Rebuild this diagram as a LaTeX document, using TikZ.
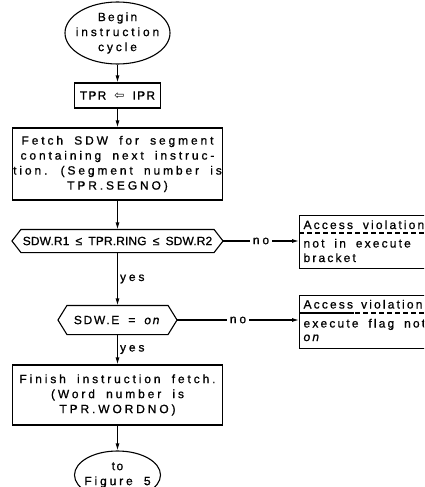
\documentclass[tikz,border=0pt]{standalone}
\usepackage{fontspec}
\setmainfont{Liberation Sans}[LetterSpace=24, WordSpace=1.8, FakeBold=0.8]
\newfontfamily\symfont{DejaVu Sans}
\usetikzlibrary{arrows.meta,shapes.geometric}
\newcommand{\lsp}[1]{\addfontfeature{LetterSpace=#1}}
\begin{document}
\begin{tikzpicture}[x=1pt,y=-1pt,
  font=\fontsize{12}{15}\selectfont,
  line width=1.1pt,
  arr/.style={-{Latex[length=7pt,width=4pt]}},
  proc/.style={draw, rectangle, align=center, inner sep=0pt},
  term/.style={draw, ellipse, inner sep=0pt},
  txt/.style={align=center, inner sep=0pt},
  dec/.style={rectangle, align=center, inner sep=0pt},
  hexa/.style={draw},
  accbox/.style={draw, rectangle, minimum width=150pt, minimum height=53pt, anchor=north west, inner sep=0pt},
  accline/.style={anchor=base west, inner sep=0pt, font=\fontsize{12}{15}\selectfont\lsp{18}},
  dashline/.style={dash pattern=on 5pt off 3pt},
  lbl/.style={fill=white, inner sep=3pt},
  yeslbl/.style={right, inner sep=2pt}]
\clip (0,0) rectangle (424,487);
\fill[white] (0,0) rectangle (424,487);

\node[term, minimum width=105pt, minimum height=62pt] (begin) at (117.5,33) {};
\node[txt] (begintxt) at (begin.center) {\lsp{18}Begin\\instruction\\cycle};
\node[proc, minimum width=86pt, minimum height=25pt] (tpr) at (117.5,95.5) {\lsp{10}TPR {\symfont ⇦} IPR};
\node[proc, minimum width=210pt, minimum height=72pt] (fetch) at (117.5,164) {Fetch SDW for segment\\containing next instruc-\\tion. (Segment number is\\TPR.SEGNO)};

\node[dec, minimum width=192pt, minimum height=22pt] (d1) at (117.5,241) {\lsp{1}SDW.R1 ≤ TPR.RING ≤ SDW.R2};
\draw[hexa] ([xshift=-9pt]d1.west) -- (d1.north west) -- (d1.north east) -- ([xshift=9pt]d1.east) -- (d1.south east) -- (d1.south west) -- cycle;

\node[accbox] (acc1) at (299,215) {};
\node[accline] (acc1t) at (303,229) {Access violation};
\draw[dashline] (acc1.west |- 0,233) -- (acc1.east |- 0,233);
\node[accline] (acc1b) at (303,247.5) {not in execute};
\node[accline] (acc1c) at (303,262) {bracket};

\node[dec, minimum width=100pt, minimum height=28pt] (d2) at (117.5,320) {\lsp{14}SDW.E = \textit{on}};
\draw[hexa] ([xshift=-9pt]d2.west) -- (d2.north west) -- (d2.north east) -- ([xshift=9pt]d2.east) -- (d2.south east) -- (d2.south west) -- cycle;

\node[accbox] (acc2) at (299,295) {};
\node[accline] (acc2t) at (303,308.5) {Access};
\node[accline] (acc2v) at ([xshift=7pt]acc2t.base east) {violation};
\draw[dashline] (acc2.west |- 0,313) -- (acc2.east |- 0,313);
\draw[line width=2.2pt] (acc2.west |- 0,313) -- (acc2t.east |- 0,313);
\node[accline] (acc2b) at (303,327.5) {execute flag not};
\node[accline] (acc2c) at (303,341) {\textit{on}};

\node[proc, minimum width=210pt, minimum height=60pt] (finish) at (117.5,395) {Finish instruction fetch.\\(Word number is\\TPR.WORDNO)};
\node[term, minimum width=86pt, minimum height=48pt] (end) at (117.5,475) {};
\node[txt] (endtxt) at (end.center) {\lsp{12}to\\Figure 5};

\draw[arr] (begin.south) -- (tpr.north);
\draw[arr] (tpr.south) -- (fetch.north);
\draw[arr] (fetch.south) -- (d1.north);
\draw[arr] (d1.south) -- node[yeslbl] {yes} (d2.north);
\draw[arr] (d2.south) -- node[yeslbl] {yes} (finish.north);
\draw[arr] (finish.south) -- (end.north);
\draw[arr] ([xshift=9pt]d1.east) -- node[lbl] {no} (acc1.west |- d1.east);
\draw[arr] ([xshift=9pt]d2.east) -- node[lbl] {no} (acc2.west |- d2.east);
\end{tikzpicture}
\end{document}
